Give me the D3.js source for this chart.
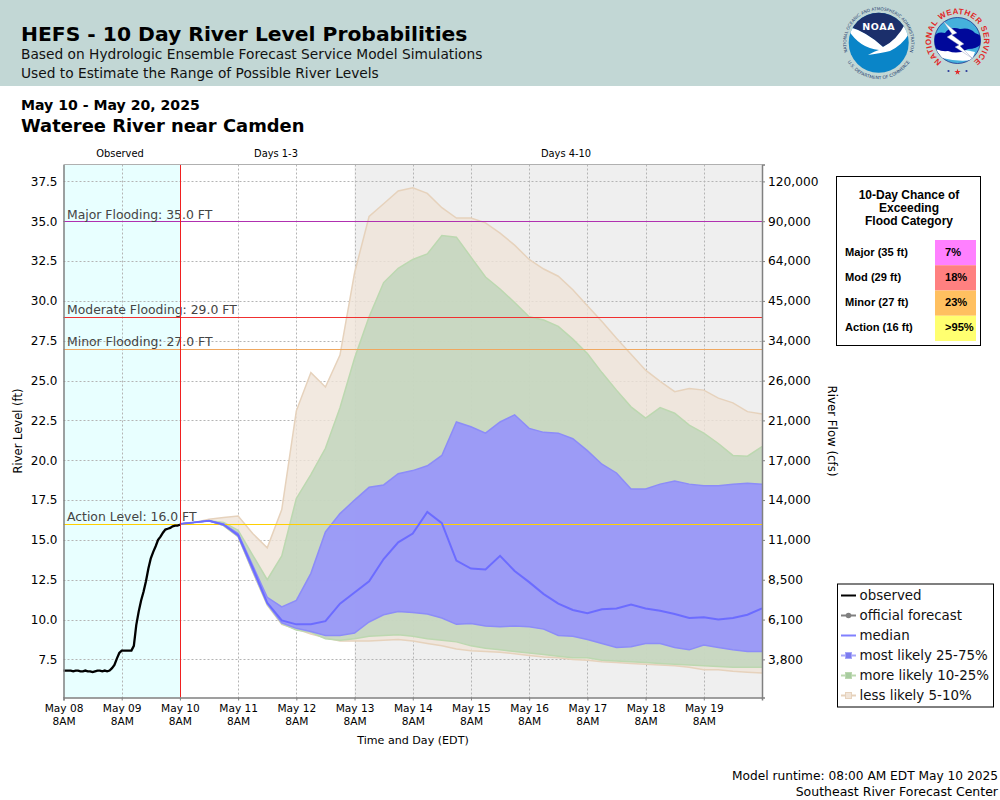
<!DOCTYPE html>
<html>
<head>
<meta charset="utf-8">
<script src="https://cdn.jsdelivr.net/npm/d3@7"></script>
<style>
  html, body { margin: 0; padding: 0; background: #fff; }
  svg { display: block; }
  text { font-family: "DejaVu Sans", sans-serif; fill: #000; }
</style>
</head>
<body>
<svg id="chart" width="1000" height="800"></svg>
<script>
// observed stage, hourly from May 08 8AM to May 10 8AM
const observed = [6.8, 6.8, 6.8, 6.8, 6.75, 6.8, 6.8, 6.75, 6.75, 6.8, 6.75, 6.75, 6.7, 6.75, 6.8, 6.8, 6.75, 6.8, 6.75, 6.8, 6.95, 7.15, 7.55, 7.9, 8.05, 8.05, 8.05, 8.05, 8.05, 8.35, 9.65, 10.5, 11.2, 11.75, 12.4, 13.2, 13.85, 14.25, 14.6, 15.0, 15.2, 15.45, 15.65, 15.7, 15.75, 15.85, 15.9, 15.9, 15.95];

// forecast percentiles, 6 hourly from May 10 8AM
const upper5 = [16, 16.1, 16.3, 16.4, 16.5, 15.4, 14.5, 16.9, 23.1, 25.5, 24.6, 26.6, 31.75, 35.3, 36.1, 36.9, 37.1, 36.75, 35.85, 35.2, 35.2, 34.9, 34.25, 33.5, 32.6, 32.0, 31.55, 30.7, 29.7, 28.7, 27.65, 26.65, 25.65, 24.95, 24.3, 24.5, 24.4, 23.9, 23.6, 23.05, 22.9];
const upper10 = [16, 16.1, 16.2, 16.1, 15.6, 14.05, 12.5, 14.0, 17.6, 19.1, 20.75, 23.3, 26.4, 29.0, 31.15, 32.05, 32.6, 32.95, 34.1, 34.0, 32.75, 31.5, 30.75, 29.9, 29.0, 28.8, 28.4, 27.6, 26.7, 25.5, 24.4, 23.35, 22.65, 23.3, 22.95, 22.2, 21.7, 21.05, 20.3, 20.25, 20.85];
const upper25 = [16, 16.1, 16.2, 16.0, 15.4, 13.4, 11.4, 10.8, 11.2, 12.9, 15.5, 16.65, 17.5, 18.3, 18.45, 19.15, 19.35, 19.65, 20.3, 22.4, 22.1, 21.7, 22.4, 22.85, 22.0, 21.75, 21.7, 21.35, 20.6, 19.75, 19.2, 18.2, 18.2, 18.5, 18.7, 18.5, 18.4, 18.4, 18.5, 18.55, 18.5];
const median = [16, 16.1, 16.2, 15.95, 15.3, 13.25, 11.05, 9.95, 9.7, 9.7, 9.9, 11.0, 11.7, 12.4, 13.8, 14.85, 15.4, 16.75, 16.05, 13.7, 13.2, 13.15, 14.0, 13.05, 12.35, 11.6, 11.0, 10.6, 10.4, 10.65, 10.7, 10.95, 10.7, 10.55, 10.35, 10.1, 10.15, 10.0, 10.1, 10.3, 10.7];
const lower25 = [16, 16.1, 16.2, 15.95, 15.25, 13.1, 11.0, 9.8, 9.45, 9.25, 9.0, 9.0, 9.15, 9.85, 10.3, 10.5, 10.45, 10.35, 10.1, 9.7, 9.75, 9.6, 9.55, 9.6, 9.55, 9.4, 9.0, 8.95, 8.75, 8.5, 8.25, 8.3, 8.5, 8.5, 8.25, 8.1, 8.4, 8.25, 8.1, 8.0, 8.0];
const lower10 = [16, 16.1, 16.2, 15.9, 15.2, 13.05, 10.95, 9.75, 9.35, 9.2, 8.8, 8.7, 8.8, 8.95, 9.0, 9.05, 8.95, 8.8, 8.7, 8.6, 8.35, 8.2, 8.1, 8.0, 7.9, 7.8, 7.7, 7.6, 7.6, 7.45, 7.4, 7.35, 7.3, 7.25, 7.2, 7.15, 7.1, 7.05, 7.0, 7.0, 7.0];
const lower5 = [16, 16.1, 16.2, 15.9, 15.2, 13.0, 10.9, 9.7, 9.4, 9.1, 8.85, 8.65, 8.65, 8.65, 8.7, 8.75, 8.65, 8.5, 8.35, 8.15, 8.05, 8.0, 7.95, 7.85, 7.75, 7.65, 7.6, 7.5, 7.45, 7.35, 7.3, 7.25, 7.2, 7.15, 7.1, 7.0, 6.85, 6.85, 6.75, 6.7, 6.65];

const levelTicks = [7.5, 10, 12.5, 15, 17.5, 20, 22.5, 25, 27.5, 30, 32.5, 35, 37.5];
const flowTicks = ["3,800", "6,100", "8,500", "11,000", "14,000", "17,000", "21,000", "26,000", "34,000", "45,000", "64,000", "90,000", "120,000"];

const floodLevels = [35, 29, 27, 16];
const floodLabels = ["Major Flooding: 35.0 FT", "Moderate Flooding: 29.0 FT", "Minor Flooding: 27.0 FT", "Action Level: 16.0 FT"];
const floodColors = ["#b030b0", "#f03030", "#f0a860", "#ffd000"];

const chanceLabels = ["Major (35 ft)", "Mod (29 ft)", "Minor (27 ft)", "Action (16 ft)"];
const chanceValues = ["7%", "18%", "23%", ">95%"];
const chanceColors = ["#ff80ff", "#ff8080", "#ffc060", "#ffff70"];

const legendLabels = ["observed", "official forecast", "median", "most likely 25-75%", "more likely 10-25%", "less likely 5-10%"];

const svg = d3.select("#chart");
const plot = { left: 63.5, right: 762, top: 164.5, bottom: 697.5 };

const start = new Date(Date.UTC(2025, 4, 8, 8));
const now = new Date(Date.UTC(2025, 4, 10, 8));
const greyFrom = new Date(Date.UTC(2025, 4, 13, 8));
const end = new Date(Date.UTC(2025, 4, 20, 8));

const x = d3.scaleUtc().domain([start, end]).range([plot.left, plot.right]);
const y = d3.scaleLinear().domain([7.5, 37.5]).range([659.4, 181.4]);
y.domain([y.invert(plot.bottom), y.invert(plot.top)]).range([plot.bottom, plot.top]);

const obsTime = (d, i) => x(d3.utcHour.offset(start, i));
const fcstTime = (i) => x(d3.utcHour.offset(now, i * 6));

// header band
svg.append("rect").attr("width", 1000).attr("height", 86).attr("fill", "#c2d7d5");
svg.append("text").attr("x", 21).attr("y", 41).attr("font-size", 20.3).attr("font-weight", "bold").text("HEFS - 10 Day River Level Probabilities");
svg.append("text").attr("x", 21).attr("y", 59).attr("font-size", 13.76).style("fill", "#111").text("Based on Hydrologic Ensemble Forecast Service Model Simulations");
svg.append("text").attr("x", 21).attr("y", 78).attr("font-size", 13.76).style("fill", "#111").text("Used to Estimate the Range of Possible River Levels");
svg.append("text").attr("x", 21).attr("y", 110).attr("font-size", 14.1).attr("font-weight", "bold").text("May 10 - May 20, 2025");
svg.append("text").attr("x", 21).attr("y", 132).attr("font-size", 17.9).attr("font-weight", "bold").text("Wateree River near Camden");

const defs = svg.append("defs");
const ringPath = (id, cx, cy, r, clockwise) => {
  const s = clockwise ? 1 : 0;
  const a = clockwise ? cy + r : cy - r;
  const b = clockwise ? cy - r : cy + r;
  defs.append("path").attr("id", id).attr("d", `M${cx},${a}A${r},${r} 0 1 ${s} ${cx},${b}A${r},${r} 0 1 ${s} ${cx},${a}`);
};

// NOAA logo
const noaa = svg.append("g");
defs.append("clipPath").attr("id", "noaa-clip").append("circle").attr("cx", 878.7).attr("cy", 42.7).attr("r", 30);
noaa.append("circle").attr("cx", 878.7).attr("cy", 42.7).attr("r", 30).attr("fill", "#0a85c8");
noaa.append("path").attr("clip-path", "url(#noaa-clip)").attr("fill", "#1b2f6b")
  .attr("d", "M840,5H920V28L904,27Q896,41 883,47Q866,32 850,27L840,27Z");
noaa.append("path").attr("clip-path", "url(#noaa-clip)").attr("fill", "#fff")
  .attr("d", "M846,26Q866,31 883,47Q897,40 905,24L912,28Q905,44 890,51Q882,53 868,55Q875,51 879,50Q858,48 846,26Z");
noaa.append("text").attr("x", 878.7).attr("y", 30).attr("text-anchor", "middle").attr("font-size", 9.5).attr("font-weight", "bold").style("fill", "#fff").attr("letter-spacing", 0.6).text("NOAA");
ringPath("noaa-top", 878.7, 42.7, 32.5, true);
ringPath("noaa-bottom", 878.7, 42.7, 36.5, false);
noaa.append("text").attr("font-size", 4.2).style("fill", "#26406f").attr("text-anchor", "middle")
  .append("textPath").attr("href", "#noaa-top").attr("startOffset", "50%").text("NATIONAL OCEANIC AND ATMOSPHERIC ADMINISTRATION");
noaa.append("text").attr("font-size", 4.4).style("fill", "#26406f").attr("text-anchor", "middle")
  .append("textPath").attr("href", "#noaa-bottom").attr("startOffset", "50%").text("U.S. DEPARTMENT OF COMMERCE");

// NWS logo
const nws = svg.append("g");
defs.append("clipPath").attr("id", "nws-clip").append("circle").attr("cx", 957.5).attr("cy", 40.5).attr("r", 23);
nws.append("circle").attr("cx", 957.5).attr("cy", 40.5).attr("r", 23).attr("fill", "#45b0dc").attr("stroke", "#1b2f8b").attr("stroke-width", 0.8);
nws.append("path").attr("clip-path", "url(#nws-clip)").attr("fill", "#fff")
  .attr("d", "M936,50Q950,46 975,52L972,60Q958,62 942,58Z");
nws.append("path").attr("clip-path", "url(#nws-clip)").attr("fill", "#00089a")
  .attr("d", "M934,38Q936,31 945,33Q950,26 960,29Q970,27 975,33Q985,36 982,43Q978,49 968,49Q958,55 948,51Q936,52 934,45Z");
nws.append("path").attr("fill", "#fff").attr("stroke", "#8a94b8").attr("stroke-width", 0.4)
  .attr("d", "M943,21L957,33L952,35L964,44L960,46L972,58L955,47L959,45L947,37L952,34Z");
ringPath("nws-ring", 957.5, 40.5, 26.5, true);
nws.append("text").attr("font-size", 8).attr("font-weight", "bold").style("fill", "#e02828").style("font-family", "'Liberation Sans'").attr("text-anchor", "middle").attr("letter-spacing", 0.5)
  .append("textPath").attr("href", "#nws-ring").attr("startOffset", "50%").text("NATIONAL WEATHER SERVICE");
nws.append("path").attr("transform", "translate(957.5,72)").attr("d", d3.symbol(d3.symbolStar, 12)()).attr("fill", "#e02828");
nws.selectAll(".dot").data([-9, 9]).join("circle").attr("class", "dot")
  .attr("cx", (d) => 957.5 + d).attr("cy", 71).attr("r", 1.1).attr("fill", "#2a3a9a");

// period backgrounds
svg.append("rect").attr("x", x(start)).attr("y", plot.top).attr("width", x(now) - x(start)).attr("height", plot.bottom - plot.top).attr("fill", "#e8ffff");
svg.append("rect").attr("x", x(greyFrom)).attr("y", plot.top).attr("width", x(end) - x(greyFrom)).attr("height", plot.bottom - plot.top).attr("fill", "#efefef");

const dayTicks = d3.range(0, 12).map((d) => d3.utcDay.offset(start, d));

// grid
const grid = svg.append("g").attr("stroke", "#b4b4b4").attr("stroke-dasharray", "2,2").attr("stroke-width", 1);
grid.selectAll(".gx").data(dayTicks.slice(1)).join("line").attr("class", "gx")
  .attr("x1", (d) => Math.round(x(d)) + 0.5).attr("x2", (d) => Math.round(x(d)) + 0.5)
  .attr("y1", plot.top).attr("y2", plot.bottom);
grid.selectAll(".gy").data(levelTicks).join("line").attr("class", "gy")
  .attr("x1", plot.left).attr("x2", plot.right)
  .attr("y1", (d) => Math.round(y(d)) + 0.5).attr("y2", (d) => Math.round(y(d)) + 0.5);

// forecast bands
const band = (hi, lo) => d3.area().x((d, i) => fcstTime(i)).y0((d, i) => y(lo[i])).y1((d) => y(d))(hi);
const edge = d3.line().x((d, i) => fcstTime(i)).y((d) => y(d));

const bands = [
  { hi: upper5, lo: lower5, fill: "#efe4d8", stroke: "#e6d2bc", alpha: 0.8 },
  { hi: upper10, lo: lower10, fill: "#bfd4bc", stroke: "#bcd8b0", alpha: 0.8 },
  { hi: upper25, lo: lower25, fill: "#9491ff", stroke: "#8c8cf8", alpha: 0.85 },
];
bands.forEach((b) => {
  svg.append("path").attr("d", band(b.hi, b.lo)).attr("fill", b.fill).attr("fill-opacity", b.alpha);
  [b.hi, b.lo].forEach((s) => {
    svg.append("path").attr("d", edge(s)).attr("fill", "none").attr("stroke", b.stroke).attr("stroke-width", 1.5);
  });
});

// flood category lines
svg.selectAll(".flood").data(floodLevels).join("line").attr("class", "flood")
  .attr("x1", plot.left).attr("x2", plot.right)
  .attr("y1", (d) => Math.round(y(d)) + 0.5).attr("y2", (d) => Math.round(y(d)) + 0.5)
  .attr("stroke", (d, i) => floodColors[i]).attr("stroke-width", 1.2);
svg.selectAll(".flood-label").data(floodLevels).join("text").attr("class", "flood-label")
  .attr("x", 67).attr("y", (d) => y(d) - 2.5).attr("font-size", 12.4).style("fill", "#444")
  .text((d, i) => floodLabels[i]);

// median and observed
svg.append("path").attr("d", edge(median)).attr("fill", "none").attr("stroke", "#6c6cff").attr("stroke-width", 2);
svg.append("line").attr("x1", Math.round(x(now)) + 0.5).attr("x2", Math.round(x(now)) + 0.5).attr("y1", plot.top).attr("y2", plot.bottom).attr("stroke", "#f02020").attr("stroke-width", 1);
svg.append("path").attr("d", d3.line().x(obsTime).y((d) => y(d))(observed)).attr("fill", "none").attr("stroke", "#000").attr("stroke-width", 2.3);

// axes
const styleAxis = (g) => {
  g.selectAll(".domain").attr("stroke", "#808080").attr("stroke-width", 1.5);
  g.selectAll(".tick line").attr("stroke", "#808080");
};

const xAxis = d3.axisBottom(x).tickValues(dayTicks).tickSize(3).tickFormat("");
const xg = svg.append("g").attr("transform", `translate(0,${plot.bottom})`).call(xAxis).call(styleAxis);
xg.selectAll(".tick").each(function (d) {
  const t = d3.select(this);
  t.append("text").attr("y", 14).attr("text-anchor", "middle").attr("font-size", 10.6).text(d3.utcFormat("%b %d")(d));
  t.append("text").attr("y", 27).attr("text-anchor", "middle").attr("font-size", 10.6).text("8AM");
});

const leftG = svg.append("g").attr("transform", `translate(${plot.left},0)`)
  .call(d3.axisLeft(y).tickValues(levelTicks).tickSize(0).tickPadding(6).tickFormat(d3.format(".1f")))
  .call(styleAxis);
leftG.selectAll("text").attr("font-size", 12).attr("font-family", null);

const rightG = svg.append("g").attr("transform", `translate(${plot.right},0)`)
  .call(d3.axisRight(y).tickValues(levelTicks).tickSize(3).tickPadding(3).tickFormat((d, i) => flowTicks[i]))
  .call(styleAxis);
rightG.selectAll("text").attr("font-size", 12.2).attr("font-family", null);

svg.append("line").attr("x1", plot.left).attr("x2", plot.right).attr("y1", plot.top).attr("y2", plot.top).attr("stroke", "#b0b0b0").attr("stroke-width", 1);

// axis and period titles
[["Observed", 120], ["Days 1-3", 276], ["Days 4-10", 566]].forEach(([t, px]) => {
  svg.append("text").attr("x", px).attr("y", 157).attr("text-anchor", "middle").attr("font-size", 9.9).text(t);
});
svg.append("text").attr("transform", "translate(22,431) rotate(-90)").attr("text-anchor", "middle").attr("font-size", 11.5).text("River Level (ft)");
svg.append("text").attr("transform", "translate(828,431) rotate(90)").attr("text-anchor", "middle").attr("font-size", 11.8).text("River Flow (cfs)");
svg.append("text").attr("x", 413).attr("y", 744).attr("text-anchor", "middle").attr("font-size", 11.1).text("Time and Day (EDT)");

// flood category chance box
const chance = svg.append("g");
chance.append("rect").attr("x", 836.5).attr("y", 176.5).attr("width", 144).attr("height", 169).attr("fill", "#fff").attr("stroke", "#000");
["10-Day Chance of", "Exceeding", "Flood Category"].forEach((t, i) => {
  chance.append("text").attr("x", 909).attr("y", 199 + i * 13).attr("text-anchor", "middle")
    .attr("font-size", 12).attr("font-weight", "bold").style("font-family", "'Liberation Sans'").text(t);
});
const cellY = d3.scaleBand().domain(d3.range(chanceLabels.length)).range([240, 341]);
chanceLabels.forEach((t, i) => {
  chance.append("rect").attr("x", 935).attr("y", cellY(i)).attr("width", 41).attr("height", cellY.bandwidth()).attr("fill", chanceColors[i]);
  chance.append("text").attr("x", 845).attr("y", cellY(i) + 15.5).attr("font-size", 11.1).attr("font-weight", "bold").style("font-family", "'Liberation Sans'").text(t);
  chance.append("text").attr("x", 945).attr("y", cellY(i) + 15.5).attr("font-size", 11.1).attr("font-weight", "bold").style("font-family", "'Liberation Sans'").text(chanceValues[i]);
});

// legend
const legend = svg.append("g");
legend.append("rect").attr("x", 837.5).attr("y", 584).attr("width", 156).attr("height", 123).attr("fill", "#fff").attr("stroke", "#000");
const legendY = d3.scalePoint().domain(legendLabels).range([595.5, 695.5]);
const swatches = [
  { line: "#000", width: 2 },
  { line: "#808080", width: 2, dot: "#808080" },
  { line: "#8080ff", width: 2 },
  { line: "#a8a8f8", width: 2, box: "#7c7cf0" },
  { line: "#bcd8b0", width: 2, box: "#a8cca0" },
  { line: "#e6d2bc", width: 2, box: "#f0e4d8" },
];
legendLabels.forEach((t, i) => {
  const ly = legendY(t), s = swatches[i];
  legend.append("line").attr("x1", 841).attr("x2", 856).attr("y1", ly).attr("y2", ly).attr("stroke", s.line).attr("stroke-width", s.width);
  if (s.dot) legend.append("circle").attr("cx", 848.5).attr("cy", ly).attr("r", 2.8).attr("fill", s.dot);
  if (s.box) legend.append("rect").attr("x", 845.5).attr("y", ly - 3).attr("width", 6).attr("height", 6).attr("fill", s.box).attr("stroke", s.line);
  legend.append("text").attr("x", 859.5).attr("y", ly + 4.5).attr("font-size", 13.4).style("fill", "#111").text(t);
});

// footer
svg.append("text").attr("x", 998).attr("y", 780).attr("text-anchor", "end").attr("font-size", 12.2).text("Model runtime: 08:00 AM EDT May 10 2025");
svg.append("text").attr("x", 998).attr("y", 796).attr("text-anchor", "end").attr("font-size", 12.5).text("Southeast River Forecast Center");
</script>
</body>
</html>
